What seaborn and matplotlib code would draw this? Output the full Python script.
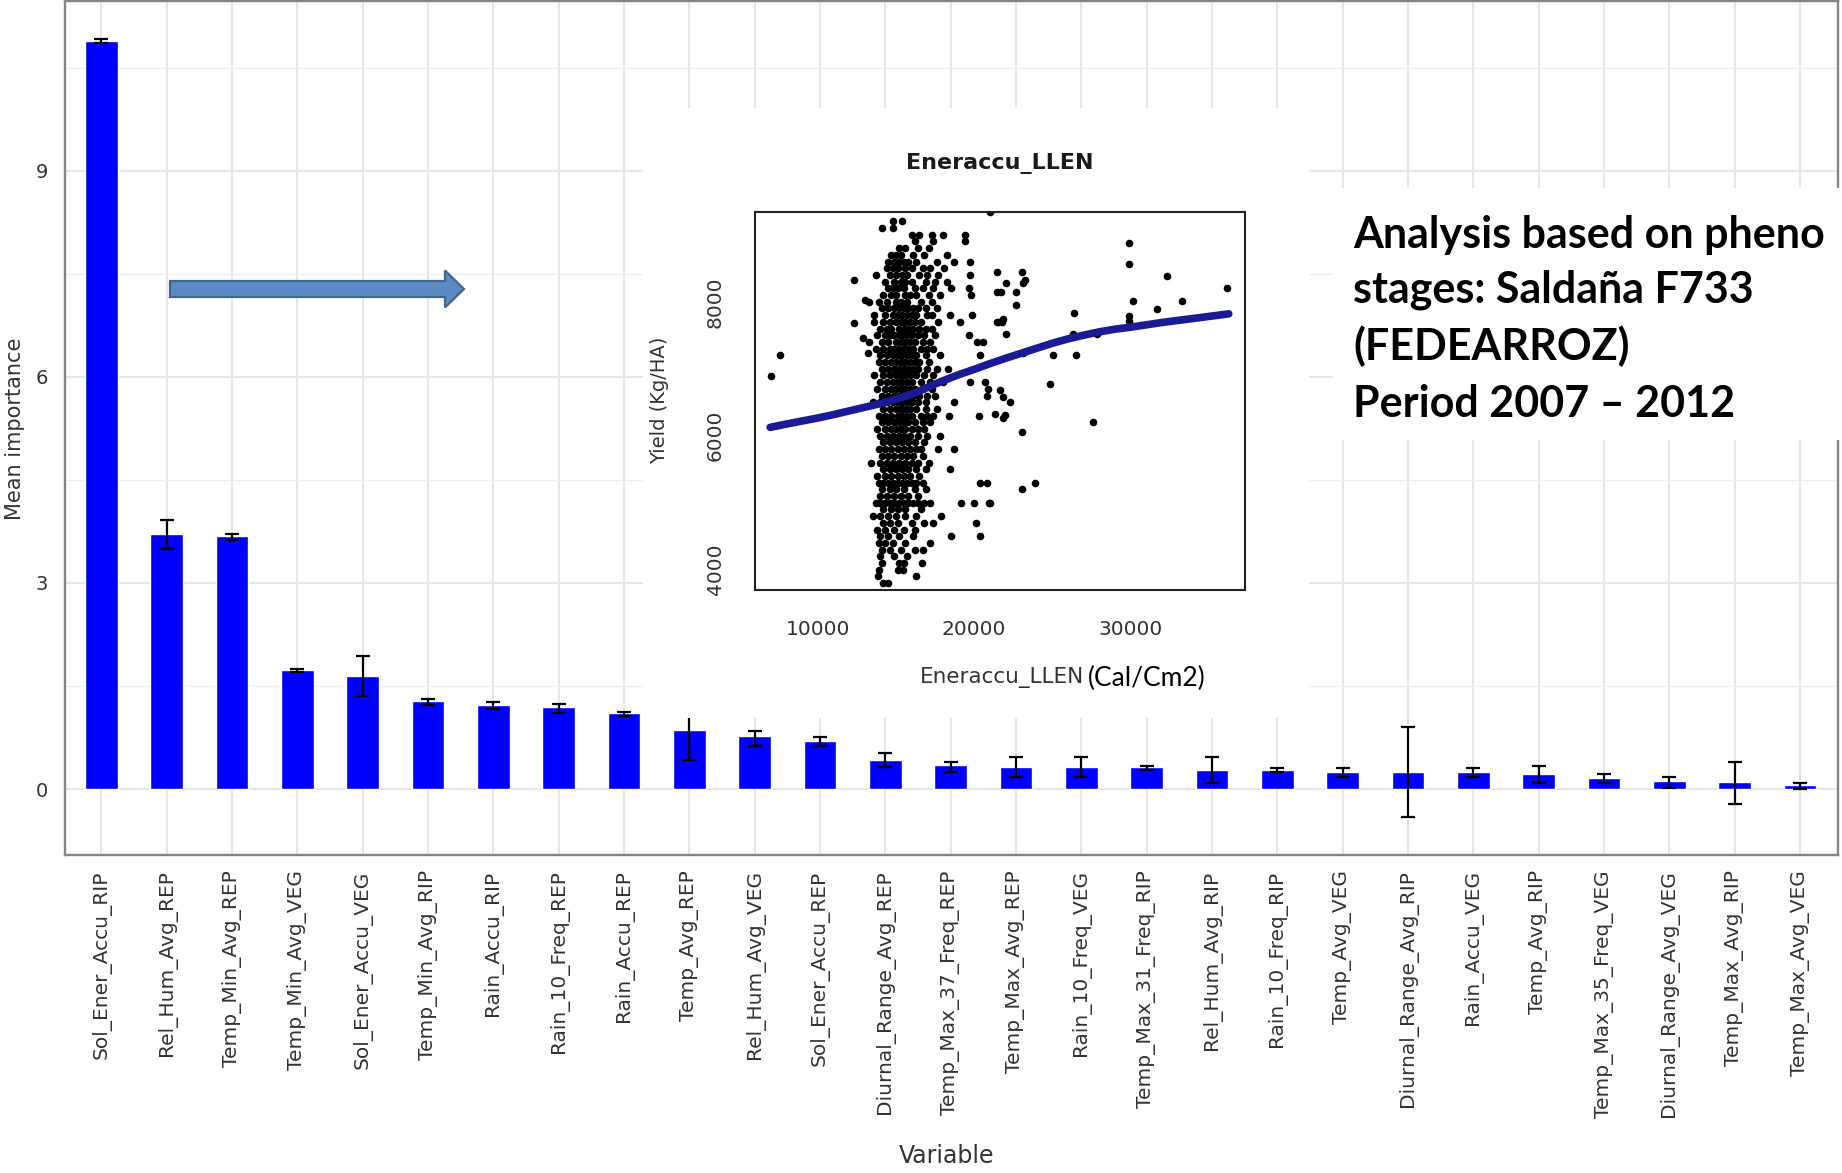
import matplotlib
matplotlib.use("Agg")
import matplotlib.pyplot as plt
import matplotlib.patches as mpatches
import seaborn as sns
import numpy as np

# ---- main chart: variable importance ----
variables = ["Sol_Ener_Accu_RIP", "Rel_Hum_Avg_REP", "Temp_Min_Avg_REP", "Temp_Min_Avg_VEG",
             "Sol_Ener_Accu_VEG", "Temp_Min_Avg_RIP", "Rain_Accu_RIP", "Rain_10_Freq_REP",
             "Rain_Accu_REP", "Temp_Avg_REP", "Rel_Hum_Avg_VEG", "Sol_Ener_Accu_REP",
             "Diurnal_Range_Avg_REP", "Temp_Max_37_Freq_REP", "Temp_Max_Avg_REP", "Rain_10_Freq_VEG",
             "Temp_Max_31_Freq_RIP", "Rel_Hum_Avg_RIP", "Rain_10_Freq_RIP", "Temp_Avg_VEG",
             "Diurnal_Range_Avg_RIP", "Rain_Accu_VEG", "Temp_Avg_RIP", "Temp_Max_35_Freq_VEG",
             "Diurnal_Range_Avg_VEG", "Temp_Max_Avg_RIP", "Temp_Max_Avg_VEG"]
importance = [10.89, 3.71, 3.68, 1.73, 1.65, 1.28, 1.22, 1.19, 1.10, 0.86, 0.77, 0.70, 0.43, 0.35,
              0.32, 0.32, 0.32, 0.28, 0.28, 0.25, 0.25, 0.25, 0.22, 0.16, 0.12, 0.10, 0.06]
err_low = [10.86, 3.49, 3.63, 1.70, 1.36, 1.23, 1.17, 1.11, 1.06, 0.42, 0.63, 0.63, 0.32, 0.25,
           0.18, 0.18, 0.27, 0.09, 0.25, 0.18, -0.40, 0.18, 0.09, 0.09, 0.02, -0.22, 0.00]
err_high = [10.92, 3.92, 3.71, 1.74, 1.94, 1.31, 1.27, 1.24, 1.12, 1.29, 0.85, 0.76, 0.52, 0.40,
            0.46, 0.46, 0.34, 0.46, 0.30, 0.30, 0.90, 0.30, 0.34, 0.22, 0.18, 0.39, 0.09]
y_ticks = [0, 3, 6, 9]

# ---- inset: yield vs accumulated energy ----
# dense cluster, one row per yield level: (yield, [energy values])
cluster_rows = [
    (9200, [14800, 15400]),
    (9100, [14100, 14800]),
    (9000, [16000, 16500, 17300, 18000, 19400]),
    (8900, [16200, 17350, 19400]),
    (8800, [15200, 15600, 16400, 17100]),
    (8700, [14700, 15000, 15300, 16100, 16800, 18250]),
    (8600, [14500, 14900, 15200, 15500, 15800, 16300, 17600, 18700, 19750]),
    (8500, [14400, 14800, 15100, 15600, 16000, 16700, 17200, 18050]),
    (8400, [13700, 14600, 15000, 15400, 15700, 16500, 17000, 17700, 19750]),
    (8300, [14300, 14900, 15300, 15600, 16000, 16900, 17500, 18250]),
    (8200, [14500, 14800, 15100, 15500, 16200, 16700, 17400, 18550, 19650]),
    (8100, [14200, 14700, 15000, 15600, 15900, 16300, 17100, 17800, 19800]),
    (8000, [13300, 13900, 14400, 15000, 15300, 15700, 16600, 17300]),
    (7900, [14100, 14500, 14900, 15200, 15500, 15800, 16100, 16400, 16900, 17600]),
    (7800, [13600, 14300, 14800, 15100, 15400, 15700, 16000, 16300, 17000, 17300, 18450, 19850]),
    (7700, [13600, 14200, 14600, 15000, 15300, 15600, 15900, 16200, 16600, 17700, 19100]),
    (7600, [14000, 14400, 14700, 15200, 15500, 15800, 16100, 16500, 16900, 17300]),
    (7500, [13800, 14300, 14600, 14900, 15200, 15400, 15700, 16000, 16400, 16800, 17500, 19650]),
    (7400, [13300, 14100, 14500, 15000, 15300, 15600, 15900, 16200, 16700, 17200, 20200, 20600]),
    (7300, [13700, 14200, 14600, 14900, 15200, 15500, 15800, 16100, 16600, 17000, 17400]),
    (7200, [14000, 14400, 14800, 15100, 15400, 15700, 16000, 16300, 16900, 17800, 20400]),
    (7100, [13900, 14300, 14700, 15000, 15300, 15600, 15900, 16200, 16500, 17100]),
    (7000, [14100, 14500, 14900, 15200, 15500, 15800, 16100, 16400, 17000, 17600, 18300]),
    (6900, [13600, 14200, 14600, 15000, 15300, 15600, 15900, 16300, 16800, 17400]),
    (6800, [14000, 14400, 14800, 15100, 15400, 15700, 16000, 16600, 17200, 18000, 19750, 20700]),
    (6700, [13800, 14300, 14700, 15000, 15300, 15600, 15900, 16200, 16700, 17300, 20900]),
    (6600, [14100, 14500, 14900, 15200, 15500, 15800, 16100, 16500, 17000, 17500, 20800]),
    (6500, [13500, 14000, 14400, 14800, 15100, 15400, 15700, 16000, 16400, 16900, 18700]),
    (6400, [14200, 14600, 15000, 15300, 15600, 15900, 16300, 16900, 17600]),
    (6300, [13900, 14300, 14700, 15100, 15400, 15700, 16000, 16600, 17000, 17400, 18400, 20300]),
    (6200, [14100, 14500, 14900, 15200, 15500, 15800, 16200, 16700, 17200]),
    (6100, [13800, 14300, 14700, 15000, 15300, 15600, 16000, 16400, 16800]),
    (6000, [14000, 14400, 14800, 15200, 15500, 15900, 16400, 17000, 17800]),
    (5900, [14200, 14600, 15000, 15400, 15800, 16200, 16800]),
    (5800, [13900, 14300, 14700, 15100, 15500, 15900, 16300, 16600, 17700, 18700]),
    (5700, [14100, 14500, 14900, 15300, 15700, 16100, 16700]),
    (5600, [13400, 14000, 14400, 14800, 15200, 15600, 16000, 16400, 17100]),
    (5500, [14200, 14600, 15000, 15400, 15800, 16300, 16900, 18450]),
    (5400, [13800, 14300, 14700, 15100, 15500, 15900, 16500]),
    (5300, [13900, 14200, 14500, 14800, 15100, 15400, 15700, 16000, 16300, 16700, 20400, 20850]),
    (5200, [14100, 14600, 15000, 15500, 16200, 16900]),
    (5100, [14000, 14400, 14900, 15300, 15800, 16400]),
    (5000, [13700, 14000, 14300, 14600, 14900, 15200, 15500, 15800, 16100, 16400, 16800,
            17200, 19150, 20000, 20950]),
    (4900, [14200, 14700, 15100, 15600, 16600]),
    (4800, [13500, 14000, 14500, 15000, 15600, 16300, 17900]),
    (4700, [14200, 14600, 15100, 16000, 16800, 17350, 20150]),
    (4600, [13800, 14300, 14900, 15500, 16200]),
    (4500, [14000, 14500, 15200, 16100, 18550, 20400]),
    (4400, [13900, 14300, 14800, 15600, 17200]),
    (4300, [14100, 14600, 15300, 16200, 16750]),
    (4200, [14000, 14900, 15700]),
    (4100, [14100, 15200, 15500, 16650]),
    (4000, [13900, 15100, 15450]),
    (3900, [13850, 16300]),
    (3800, [14200, 14500]),
]
outlier_energy = [6985, 7580, 12320, 12320, 12910, 13020, 13230, 21020, 21450, 21450, 21730, 22050,
                  22050, 22690, 22690, 23050, 23050, 23160, 23270, 21880, 21770, 21450, 21560,
                  21660, 21880, 22300, 21340, 21980, 21880, 24870, 25080, 26320, 26420, 26530,
                  27640, 27860, 29940, 29940, 29940, 29940, 30160, 31700, 32340, 33300, 36180,
                  23160, 23910, 23050, 21020]
outlier_yield = [6890, 7210, 8330, 7690, 7460, 8030, 7230, 9345, 8450, 8150, 8140, 8280, 7520,
                 8140, 7950, 8450, 6060, 8280, 8330, 7750, 7700, 7700, 7700, 6680, 6580, 6510,
                 6330, 6310, 6260, 6770, 7210, 7520, 7830, 7210, 6210, 7520, 8870, 8560, 7790,
                 7720, 8010, 7890, 8380, 8010, 8200, 7230, 5300, 5200, 5000]
trend_energy = [6950, 8000, 9000, 10000, 11000, 12000, 13000, 14000, 15000, 16000, 17000, 18000,
                19000, 20000, 21000, 22000, 23000, 24000, 25000, 26000, 27000, 28000, 29000,
                30000, 31000, 32000, 33000, 34000, 35000, 36300]
trend_yield = [6125, 6175, 6220, 6265, 6315, 6370, 6425, 6480, 6545, 6620, 6720, 6820, 6910, 6990,
               7075, 7155, 7230, 7305, 7380, 7445, 7500, 7550, 7590, 7620, 7655, 7690, 7720, 7750,
               7780, 7820]
inset_xticks = [10000, 15000, 20000, 25000, 30000, 35000]
inset_xlabels = ["10000", "", "20000", "", "30000", ""]
inset_yticks = [4000, 5000, 6000, 7000, 8000, 9000]
inset_ylabels = ["4000", "", "6000", "", "8000", ""]

# the first line runs past the slide edge in the original, only "pheno" shows
note_lines = ["Analysis based on pheno", "stages: Saldaña F733", "(FEDEARROZ)",
              "Period 2007 \u2013 2012"]

sns.set_style("white")
plt.rcParams["font.family"] = ["DejaVu Sans"]

W, H = 1842, 1173
fig = plt.figure(figsize=(W / 100, H / 100), dpi=100)


def fx(px):
    return px / W


def fy(py):
    return 1 - py / H


# main axes
ax = fig.add_axes([fx(64.6), fy(855), fx(1838 - 64.6), (855 - 1) / H])
ax.set_zorder(0)
pos = np.arange(len(variables))
sns.barplot(x=variables, y=importance, order=variables, color="#0000ff", saturation=1,
            width=0.5, errorbar=None, ax=ax, zorder=2)
imp = np.array(importance)
yerr = [imp - np.array(err_low), np.array(err_high) - imp]
ax.errorbar(pos, imp, yerr=yerr, fmt="none", ecolor="black", elinewidth=1.6,
            capsize=4.7, capthick=1.6, zorder=3)
ax.set_xlim(-0.56, len(variables) - 1 + 0.58)
ax.set_ylim(-0.96, 11.47)
ax.set_yticks(y_ticks)
ax.set_yticklabels([str(v) for v in y_ticks])
ax.set_yticks([1.5, 4.5, 7.5, 10.5], minor=True)
ax.set_axisbelow(True)
ax.grid(which="major", axis="both", color="#e6e6e6", linewidth=1.4)
ax.grid(which="minor", axis="y", color="#efefef", linewidth=0.9)
ax.tick_params(which="minor", length=0)
ax.tick_params(axis="both", which="major", direction="out", length=4, width=1,
               color="#333333", labelcolor="#333333")
ax.tick_params(axis="y", labelsize=14, pad=8)
ax.tick_params(axis="x", labelsize=14.5, labelrotation=90, pad=7)
for lab in ax.get_xticklabels():
    lab.set_va("top")
for sp in ax.spines.values():
    sp.set_visible(True)
    sp.set_color("#858585")
    sp.set_linewidth(1.7)
ax.set_xlabel("")
ax.set_ylabel("")
fig.text(fx(15), fy(429), "Mean importance", rotation=90, ha="center", va="center",
         fontsize=15, color="#333333")
fig.text(fx(947), fy(1156), "Variable", ha="center", va="center", fontsize=17, color="#333333")

# arrow
arrow = mpatches.FancyArrow(fx(170), fy(289), fx(464 - 170), 0, width=16 / H,
                            head_width=37 / H, head_length=fx(19), length_includes_head=True,
                            transform=fig.transFigure, facecolor="#5a89c4",
                            edgecolor="#41668f", linewidth=1.6, zorder=1)
fig.add_artist(arrow)

# white panels covering the grid
inset_bg = mpatches.Rectangle((fx(643), fy(718)), fx(1309 - 643), (718 - 108) / H,
                              transform=fig.transFigure, facecolor="white", edgecolor="none",
                              zorder=1)
fig.add_artist(inset_bg)
note_bg = mpatches.Rectangle((fx(1333), fy(440)), fx(W - 1333), (440 - 188) / H,
                             transform=fig.transFigure, facecolor="white", edgecolor="none",
                             zorder=1)
fig.add_artist(note_bg)

# inset scatter
axin = fig.add_axes([fx(755.3), fy(589.6), fx(1245 - 755.3), (589.6 - 211.8) / H])
axin.set_zorder(2)
cl_energy = [e for yv, row in cluster_rows for e in row]
cl_yield = [yv for yv, row in cluster_rows for e in row]
sns.scatterplot(x=cl_energy + outlier_energy, y=cl_yield + outlier_yield, color="black",
                s=30, linewidth=0, ax=axin, zorder=2)
sns.lineplot(x=trend_energy, y=trend_yield, color="#1a1a96", linewidth=5.5, sort=False,
             estimator=None, ax=axin, zorder=3)
axin.set_xlim(5999, 37340)
axin.set_ylim(3703, 9343)
axin.set_xticks(inset_xticks)
axin.set_xticklabels(inset_xlabels)
axin.set_yticks(inset_yticks)
axin.set_yticklabels(inset_ylabels, rotation=90, va="center")
axin.tick_params(direction="out", length=7, width=1.2, color="black", labelcolor="#333333",
                 labelsize=14.5, pad=15)
axin.grid(False)
axin.set_xlabel("")
axin.set_ylabel("")
for sp in axin.spines.values():
    sp.set_visible(True)
    sp.set_color("#222222")
    sp.set_linewidth(1.5)

fig.text(fx(1000), fy(164), "Eneraccu_LLEN", ha="center", va="center", fontsize=16,
         fontweight="bold", color="#1a1a1a", zorder=3)
fig.text(fx(660), fy(400.7), "Yield (Kg/HA)", rotation=90, ha="center", va="center",
         fontsize=14, color="#333333", zorder=3)
fig.text(fx(1084), fy(678), "Eneraccu_LLEN", ha="right", va="center", fontsize=15.5,
         color="#333333", zorder=3)
fig.text(fx(1088), fy(678), "(Cal/Cm2)", ha="left", va="center", fontsize=19,
         family=["Lato", "DejaVu Sans"], color="black", zorder=3)

# note text
for line, base in zip(note_lines, [248, 303, 360, 417]):
    fig.text(fx(1353), fy(base), line, ha="left", va="baseline", fontsize=31,
             fontweight="bold", family=["Lato", "DejaVu Sans"], color="black", zorder=3)

fig.savefig("out.png", dpi=100)
